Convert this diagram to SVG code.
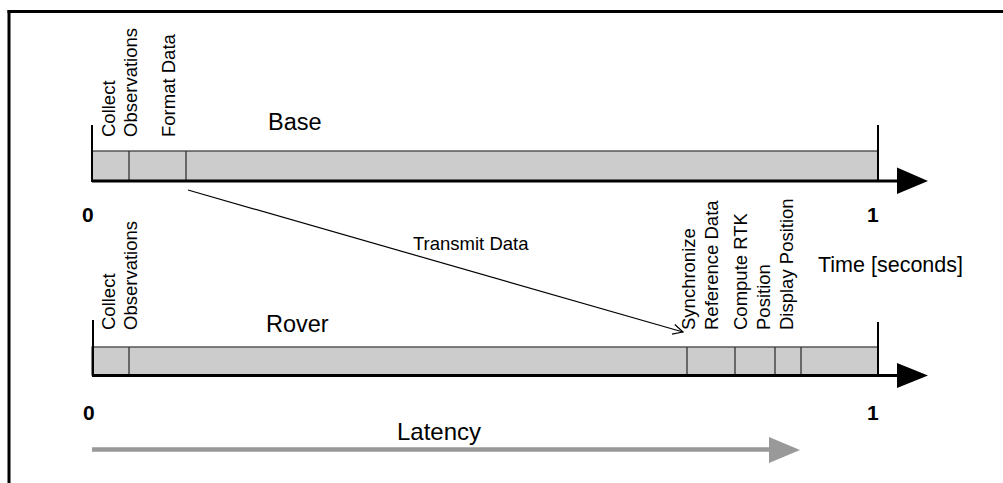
<svg xmlns="http://www.w3.org/2000/svg" width="1003" height="483" viewBox="0 0 1003 483">
<style>
text{font-family:"Liberation Sans",Arial,sans-serif;fill:#000}
.lbl{font-size:18.5px}
.big{font-size:23.5px}
.num{font-size:21px;font-weight:bold}
.bar{fill:#cccccc;stroke:#333;stroke-width:1.2}
.div{stroke:#333;stroke-width:1.3}
.tick{stroke:#000;stroke-width:2}
.axis{stroke:#000;stroke-width:3.2}
</style>
<defs>
<marker id="open" viewBox="0 0 12 12" refX="11" refY="6" markerWidth="12" markerHeight="12" markerUnits="userSpaceOnUse" orient="auto">
<polyline points="1,1 11,6 1,11" fill="none" stroke="#000" stroke-width="1.2"/>
</marker>
</defs>
<rect width="1003" height="483" fill="#fff"/>
<g id="frame">
<line x1="7.5" y1="11.5" x2="1003" y2="11.5" stroke="#000" stroke-width="3"/>
<line x1="9" y1="10" x2="9" y2="483" stroke="#000" stroke-width="3"/>
</g>
<g id="base">
<rect class="bar" x="92" y="151" width="786" height="30"/>
<line class="div" x1="129" y1="151" x2="129" y2="181"/>
<line class="div" x1="186" y1="151" x2="186" y2="181"/>
<line class="tick" x1="92" y1="125" x2="92" y2="182"/>
<line class="tick" x1="878" y1="125" x2="878" y2="182"/>
<line class="axis" x1="92" y1="181" x2="905" y2="181"/>
<polygon points="897,167.5 928,181 897,194" fill="#000"/>
<text class="lbl" transform="translate(115,137) rotate(-90)">Collect</text>
<text class="lbl" transform="translate(137,137) rotate(-90)">Observations</text>
<text class="lbl" transform="translate(175,137) rotate(-90)">Format Data</text>
<text class="big" x="268" y="130">Base</text>
<text class="num" x="82" y="222">0</text>
<text class="num" x="867" y="222">1</text>
</g>
<g id="rover">
<rect class="bar" x="92" y="347" width="786" height="28"/>
<line class="div" x1="129" y1="347" x2="129" y2="375"/>
<line class="div" x1="687" y1="347" x2="687" y2="375"/>
<line class="div" x1="735" y1="347" x2="735" y2="375"/>
<line class="div" x1="775" y1="347" x2="775" y2="375"/>
<line class="div" x1="801" y1="347" x2="801" y2="375"/>
<line class="tick" x1="93" y1="320" x2="93" y2="376"/>
<line class="tick" x1="878" y1="322" x2="878" y2="376"/>
<line class="axis" x1="92" y1="375.5" x2="905" y2="375.5"/>
<polygon points="897,363 928,375.5 897,388" fill="#000"/>
<text class="lbl" transform="translate(115,330) rotate(-90)">Collect</text>
<text class="lbl" transform="translate(137,330) rotate(-90)">Observations</text>
<text class="lbl" transform="translate(695,330) rotate(-90)">Synchronize</text>
<text class="lbl" transform="translate(718,330) rotate(-90)">Reference Data</text>
<text class="lbl" transform="translate(746.5,330) rotate(-90)">Compute RTK</text>
<text class="lbl" transform="translate(770,330) rotate(-90)">Position</text>
<text class="lbl" transform="translate(793,330) rotate(-90)">Display Position</text>
<text class="big" x="266" y="332">Rover</text>
<text class="num" x="83" y="420">0</text>
<text class="num" x="867" y="420">1</text>
</g>
<g id="time-label">
<text style="font-size:21.5px" x="818" y="272">Time [seconds]</text>
</g>
<g id="connectors">
<line x1="188" y1="190" x2="683" y2="332" stroke="#000" stroke-width="1.2" marker-end="url(#open)"/>
<text class="lbl" x="413" y="250">Transmit Data</text>
<line x1="92" y1="449.5" x2="775" y2="449.5" stroke="#999" stroke-width="4.5"/>
<polygon points="769,437 800,450 769,463" fill="#999"/>
<text style="font-size:24px" x="397" y="440">Latency</text>
</g>
</svg>
